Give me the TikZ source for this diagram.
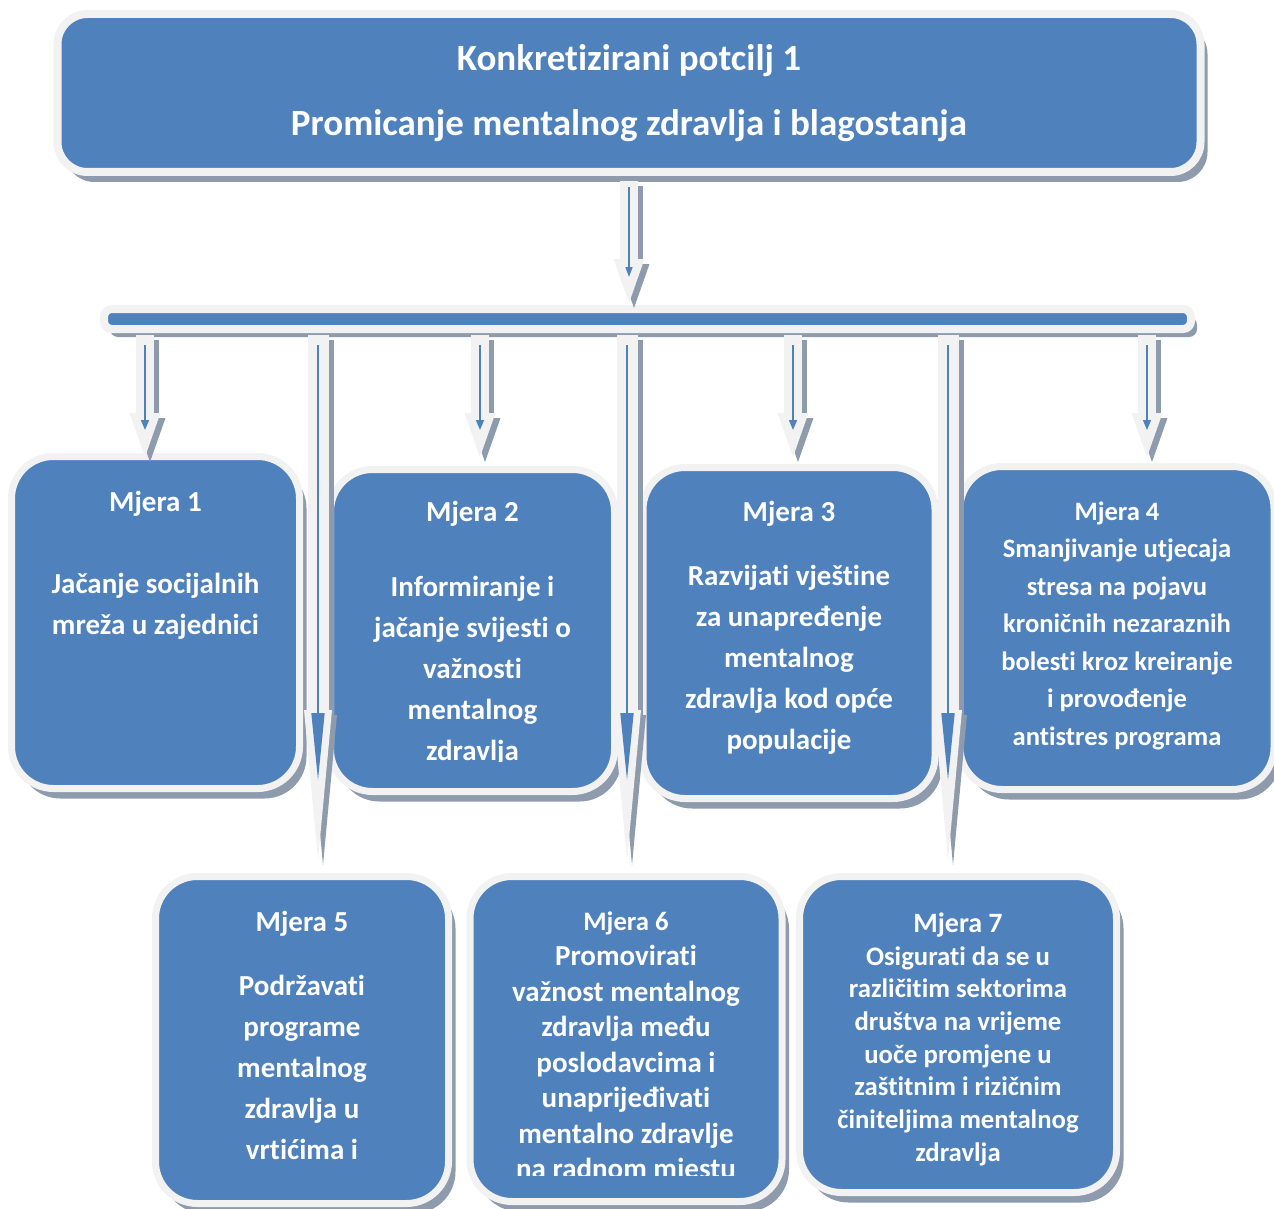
\documentclass[tikz,border=0pt]{standalone}
\usepackage{fontspec}
\setmainfont[Ligatures=CommonOff]{Carlito}
\usepackage{tikz}
\usetikzlibrary{shapes.geometric, arrows.meta, positioning, shadows}
\definecolor{boxblue}{HTML}{4F81BD}
\definecolor{rimgray}{HTML}{F2F2F2}
\definecolor{shadegray}{HTML}{8D9BAD}
\tikzstyle{goalbox} = [rectangle, rounded corners=30pt, draw=rimgray, line width=8pt, fill=boxblue, outer sep=0pt, text=white, align=center, font=\bfseries\fontsize{37}{65}\selectfont, drop shadow={shadow xshift=7pt, shadow yshift=-10pt, fill=shadegray, opacity=1}]
\tikzstyle{barbox} = [rectangle, rounded corners=8pt, draw=rimgray, line width=8pt, fill=boxblue, outer sep=0pt, drop shadow={shadow xshift=6pt, shadow yshift=-8pt, fill=shadegray, opacity=1}]
\tikzstyle{mjera} = [rectangle, rounded corners=42pt, draw=rimgray, line width=7pt, fill=boxblue, outer sep=0pt, drop shadow={shadow xshift=7pt, shadow yshift=-10pt, fill=shadegray, opacity=1}]
\tikzstyle{mtext} = [text=white, align=center, inner sep=0pt, anchor=north, font=\bfseries\fontsize{29}{41}\selectfont]
\tikzstyle{offshadow} = [shadegray, transform canvas={xshift=5pt, yshift=-5pt}]
\tikzstyle{pipe} = [line width=18pt, rimgray, shorten <=6pt, -{Triangle[length=44pt, width=31pt, line width=0pt]}]
\tikzstyle{longpipe} = [line width=21pt, rimgray, shorten <=6pt, -{Triangle[length=150pt, width=28pt, line width=0pt]}]
\tikzstyle{pipecore} = [line width=1.5pt, boxblue, shorten <=16pt, shorten >=27pt, -{Triangle[length=10pt, width=8pt]}]
\tikzstyle{longcore} = [line width=1.5pt, boxblue, shorten <=16pt, shorten >=80pt, -{Triangle[length=67pt, width=13pt]}]

\begin{document}
\begin{tikzpicture}[x=1pt, y=-1pt]
\useasboundingbox (0,0) rectangle (1274,1209);
% goal and the cross bar
\node (potcilj) [goalbox, minimum width=1143pt, minimum height=158pt] at (629,93) {Konkretizirani potcilj 1\\Promicanje mentalnog zdravlja i blagostanja};
\node (crossbar) [barbox, minimum width=1087pt, minimum height=20pt] at (647.5,319) {};

% measures
\node (mjera1) [mjera, minimum width=288pt, minimum height=332pt] at (155.5,622.5) {};
\node (mjera2) [mjera, minimum width=284pt, minimum height=322pt] at (472.5,630.5) {};
\node (mjera3) [mjera, minimum width=292pt, minimum height=331pt] at (789,633) {};
\node (mjera4) [mjera, minimum width=314pt, minimum height=323pt] at (1117,628) {};
\node (mjera5) [mjera, minimum width=293pt, minimum height=327pt] at (302,1040) {};
\node (mjera6) [mjera, minimum width=312pt, minimum height=325pt] at (626,1039) {};
\node (mjera7) [mjera, minimum width=317pt, minimum height=316pt] at (958,1034.5) {};

\node (txt1) [mtext, below=34pt of mjera1.north] {Mjera 1\\[41pt]Jačanje socijalnih\\mreža u zajednici};
\begin{scope}
\clip (320,440) rectangle (625,761);
\node (txt2) [mtext, below=31pt of mjera2.north] {Mjera 2\\[34pt]Informiranje i\\jačanje svijesti o\\važnosti\\mentalnog\\zdravlja};
\end{scope}
\node (txt3) [mtext, below=33pt of mjera3.north] {Mjera 3\\[23pt]Razvijati vještine\\za unapređenje\\mentalnog\\zdravlja kod opće\\populacije};
\node (txt4) [mtext, below=35pt of mjera4.north, font=\bfseries\fontsize{26.6}{37.5}\selectfont] {Mjera 4\\Smanjivanje utjecaja\\stresa na pojavu\\kroničnih nezaraznih\\bolesti kroz kreiranje\\i provođenje\\antistres programa};
\node (txt5) [mtext, below=34pt of mjera5.north] {Mjera 5\\[23pt]Podržavati\\programe\\mentalnog\\zdravlja u\\vrtićima i};
\begin{scope}
\clip (460,860) rectangle (790,1175);
\node (txt6) [mtext, below=35pt of mjera6.north, font=\bfseries\fontsize{29}{35.5}\selectfont] {{\fontsize{26.7}{35.5}\selectfont Mjera 6}\\Promovirati\\važnost mentalnog\\zdravlja među\\poslodavcima i\\unaprijeđivati\\mentalno zdravlje\\na radnom mjestu};
\end{scope}
\node (txt7) [mtext, below=36pt of mjera7.north, font=\bfseries\fontsize{26.7}{32.7}\selectfont] {{\fontsize{28}{32.7}\selectfont Mjera 7}\\Osigurati da se u\\različitim sektorima\\društva na vrijeme\\uoče promjene u\\zaštitnim i rizičnim\\činiteljima mentalnog\\zdravlja};

% arrows
\coordinate (tip1) at (145,457);
\coordinate (tip2) at (480,457);
\coordinate (tip3) at (793,457);
\coordinate (tip4) at (1147,457);
\coordinate (tip5) at (318,860);
\coordinate (tip6) at (627,860);
\coordinate (tip7) at (948,860);

\draw[pipe, offshadow, shorten <=9.5pt, shorten >=6pt] (potcilj.south) -- (potcilj.south |- crossbar.north);
\draw[pipe, shorten <=9.5pt, shorten >=6pt] (potcilj.south) -- (potcilj.south |- crossbar.north);
\draw[pipecore, shorten <=15.5pt, shorten >=32pt, -{Triangle[length=10pt, width=7pt]}] (potcilj.south) -- (potcilj.south |- crossbar.north);

\foreach \t in {tip1,tip2,tip3,tip4} {
  \draw[pipe, offshadow] (crossbar.south -| \t) -- (\t);
  \draw[pipe] (crossbar.south -| \t) -- (\t);
  \draw[pipecore] (crossbar.south -| \t) -- (\t);
}
\foreach \t in {tip5,tip6,tip7} {
  \draw[longpipe, offshadow] (crossbar.south -| \t) -- (\t);
  \draw[longpipe] (crossbar.south -| \t) -- (\t);
  \draw[longcore] (crossbar.south -| \t) -- (\t);
}
\end{tikzpicture}
\end{document}
